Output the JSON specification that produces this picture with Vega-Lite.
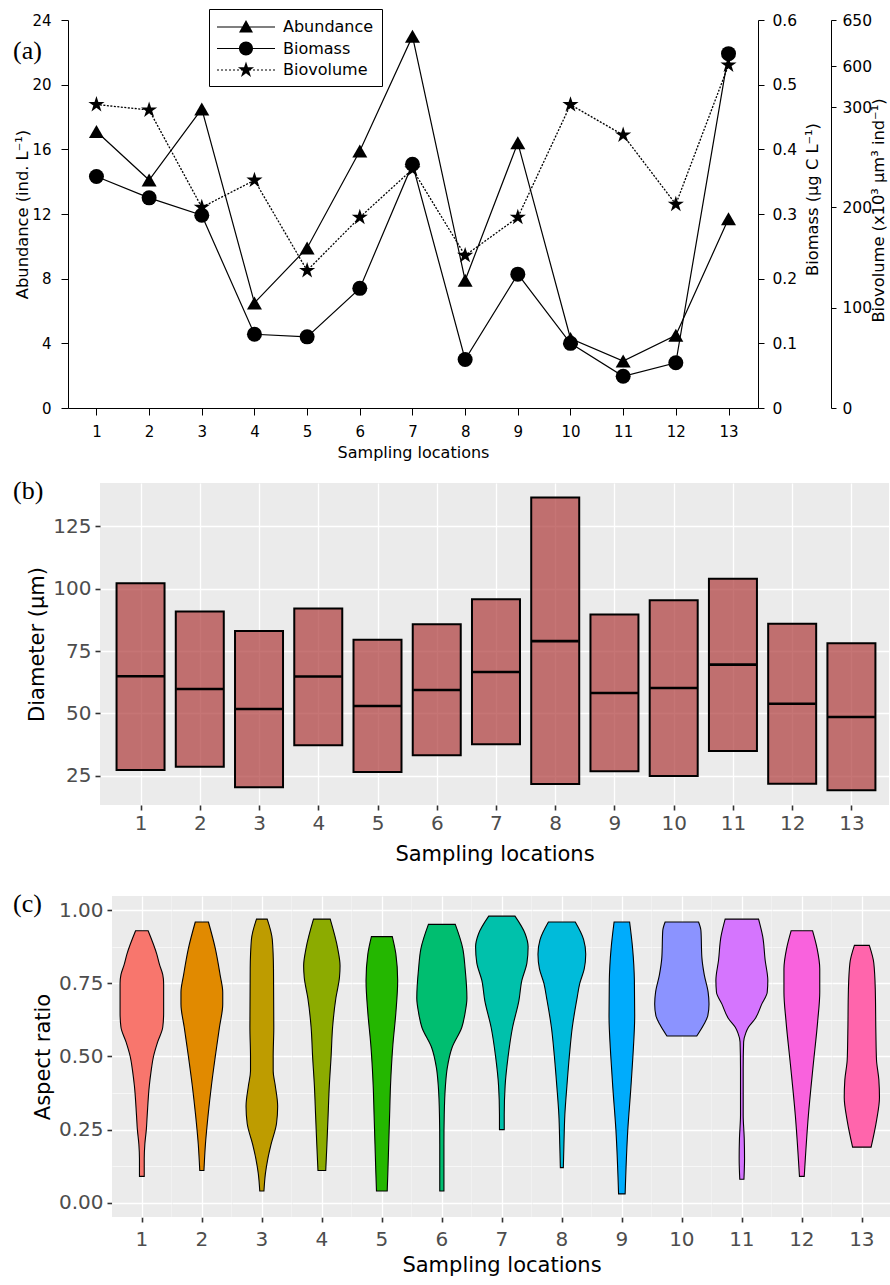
{
  "$schema": "https://vega.github.io/schema/vega-lite/v6.json",
  "background": "white",
  "padding": {"left": 12, "top": 8, "right": 0, "bottom": 0},
  "spacing": 18,
  "center": false,
  "config": {
    "font": "DejaVu Sans",
    "view": {"stroke": null},
    "axis": {"labelFont": "DejaVu Sans", "titleFont": "DejaVu Sans", "titleFontWeight": "normal", "labelOverlap": false, "labelFlush": false, "labelBound": false},
    "title": {"font": "Liberation Serif", "fontSize": 26, "fontWeight": "normal", "color": "black", "anchor": "start", "frame": "group"}
  },
  "datasets": {
    "panelA": [
      {"loc": 1, "abundance": 17.1, "biomass": 0.358, "biovolume": 318},
      {"loc": 2, "abundance": 14.1, "biomass": 0.325, "biovolume": 297},
      {"loc": 3, "abundance": 18.5, "biomass": 0.298, "biovolume": 200},
      {"loc": 4, "abundance": 6.5, "biomass": 0.114, "biovolume": 227},
      {"loc": 5, "abundance": 9.9, "biomass": 0.110, "biovolume": 137},
      {"loc": 6, "abundance": 15.9, "biomass": 0.185, "biovolume": 190},
      {"loc": 7, "abundance": 23.0, "biomass": 0.377, "biovolume": 238},
      {"loc": 8, "abundance": 7.9, "biomass": 0.075, "biovolume": 152},
      {"loc": 9, "abundance": 16.4, "biomass": 0.207, "biovolume": 190},
      {"loc": 10, "abundance": 4.3, "biomass": 0.100, "biovolume": 317},
      {"loc": 11, "abundance": 2.9, "biomass": 0.049, "biovolume": 272},
      {"loc": 12, "abundance": 4.5, "biomass": 0.070, "biovolume": 203},
      {"loc": 13, "abundance": 11.7, "biomass": 0.548, "biovolume": 601}
    ],
    "legendA": [
      {"series": "Abundance"},
      {"series": "Biomass"},
      {"series": "Biovolume"}
    ],
    "panelB": [
      {"loc": 1, "lower": 27.3, "median": 64.9, "upper": 102.2},
      {"loc": 2, "lower": 28.6, "median": 59.8, "upper": 90.9},
      {"loc": 3, "lower": 20.4, "median": 51.8, "upper": 83.1},
      {"loc": 4, "lower": 37.3, "median": 64.8, "upper": 92.1},
      {"loc": 5, "lower": 26.5, "median": 53.0, "upper": 79.6},
      {"loc": 6, "lower": 33.2, "median": 59.4, "upper": 85.8},
      {"loc": 7, "lower": 37.7, "median": 66.6, "upper": 95.8},
      {"loc": 8, "lower": 21.7, "median": 79.0, "upper": 136.6},
      {"loc": 9, "lower": 26.8, "median": 58.2, "upper": 89.7},
      {"loc": 10, "lower": 24.9, "median": 60.2, "upper": 95.4},
      {"loc": 11, "lower": 35.0, "median": 69.6, "upper": 104.0},
      {"loc": 12, "lower": 21.8, "median": 53.9, "upper": 86.0},
      {"loc": 13, "lower": 19.2, "median": 48.6, "upper": 78.2}
    ],
    "panelC": [
      {"loc": 1, "ar": 0.09, "w": 0.08}, {"loc": 1, "ar": 0.15, "w": 0.08}, {"loc": 1, "ar": 0.2, "w": 0.10}, {"loc": 1, "ar": 0.25, "w": 0.15}, {"loc": 1, "ar": 0.3, "w": 0.18}, {"loc": 1, "ar": 0.4, "w": 0.25}, {"loc": 1, "ar": 0.45, "w": 0.31}, {"loc": 1, "ar": 0.5, "w": 0.39}, {"loc": 1, "ar": 0.55, "w": 0.53}, {"loc": 1, "ar": 0.6, "w": 0.70}, {"loc": 1, "ar": 0.65, "w": 0.73}, {"loc": 1, "ar": 0.75, "w": 0.73}, {"loc": 1, "ar": 0.78, "w": 0.70}, {"loc": 1, "ar": 0.815, "w": 0.59}, {"loc": 1, "ar": 0.85, "w": 0.50}, {"loc": 1, "ar": 0.93, "w": 0.21},
      {"loc": 2, "ar": 0.11, "w": 0.07}, {"loc": 2, "ar": 0.2, "w": 0.12}, {"loc": 2, "ar": 0.3, "w": 0.21}, {"loc": 2, "ar": 0.4, "w": 0.32}, {"loc": 2, "ar": 0.5, "w": 0.45}, {"loc": 2, "ar": 0.6, "w": 0.59}, {"loc": 2, "ar": 0.68, "w": 0.70}, {"loc": 2, "ar": 0.72, "w": 0.70}, {"loc": 2, "ar": 0.78, "w": 0.61}, {"loc": 2, "ar": 0.87, "w": 0.45}, {"loc": 2, "ar": 0.96, "w": 0.22},
      {"loc": 3, "ar": 0.04, "w": 0.07}, {"loc": 3, "ar": 0.1, "w": 0.12}, {"loc": 3, "ar": 0.15, "w": 0.20}, {"loc": 3, "ar": 0.2, "w": 0.31}, {"loc": 3, "ar": 0.27, "w": 0.49}, {"loc": 3, "ar": 0.33, "w": 0.53}, {"loc": 3, "ar": 0.4, "w": 0.45}, {"loc": 3, "ar": 0.45, "w": 0.38}, {"loc": 3, "ar": 0.5, "w": 0.38}, {"loc": 3, "ar": 0.6, "w": 0.40}, {"loc": 3, "ar": 0.8, "w": 0.39}, {"loc": 3, "ar": 0.9, "w": 0.35}, {"loc": 3, "ar": 0.97, "w": 0.18},
      {"loc": 4, "ar": 0.11, "w": 0.13}, {"loc": 4, "ar": 0.2, "w": 0.17}, {"loc": 4, "ar": 0.3, "w": 0.21}, {"loc": 4, "ar": 0.4, "w": 0.25}, {"loc": 4, "ar": 0.5, "w": 0.31}, {"loc": 4, "ar": 0.6, "w": 0.36}, {"loc": 4, "ar": 0.7, "w": 0.47}, {"loc": 4, "ar": 0.77, "w": 0.59}, {"loc": 4, "ar": 0.81, "w": 0.61}, {"loc": 4, "ar": 0.87, "w": 0.53}, {"loc": 4, "ar": 0.97, "w": 0.28},
      {"loc": 5, "ar": 0.04, "w": 0.18}, {"loc": 5, "ar": 0.1, "w": 0.20}, {"loc": 5, "ar": 0.2, "w": 0.23}, {"loc": 5, "ar": 0.3, "w": 0.26}, {"loc": 5, "ar": 0.4, "w": 0.29}, {"loc": 5, "ar": 0.54, "w": 0.37}, {"loc": 5, "ar": 0.65, "w": 0.47}, {"loc": 5, "ar": 0.76, "w": 0.53}, {"loc": 5, "ar": 0.85, "w": 0.47}, {"loc": 5, "ar": 0.91, "w": 0.35},
      {"loc": 6, "ar": 0.04, "w": 0.07}, {"loc": 6, "ar": 0.2, "w": 0.07}, {"loc": 6, "ar": 0.3, "w": 0.08}, {"loc": 6, "ar": 0.4, "w": 0.12}, {"loc": 6, "ar": 0.46, "w": 0.18}, {"loc": 6, "ar": 0.53, "w": 0.34}, {"loc": 6, "ar": 0.6, "w": 0.67}, {"loc": 6, "ar": 0.65, "w": 0.78}, {"loc": 6, "ar": 0.7, "w": 0.84}, {"loc": 6, "ar": 0.8, "w": 0.78}, {"loc": 6, "ar": 0.87, "w": 0.70}, {"loc": 6, "ar": 0.952, "w": 0.45},
      {"loc": 7, "ar": 0.25, "w": 0.08}, {"loc": 7, "ar": 0.3, "w": 0.08}, {"loc": 7, "ar": 0.4, "w": 0.11}, {"loc": 7, "ar": 0.5, "w": 0.21}, {"loc": 7, "ar": 0.6, "w": 0.36}, {"loc": 7, "ar": 0.69, "w": 0.57}, {"loc": 7, "ar": 0.76, "w": 0.67}, {"loc": 7, "ar": 0.82, "w": 0.84}, {"loc": 7, "ar": 0.875, "w": 0.88}, {"loc": 7, "ar": 0.92, "w": 0.78}, {"loc": 7, "ar": 0.98, "w": 0.44},
      {"loc": 8, "ar": 0.12, "w": 0.05}, {"loc": 8, "ar": 0.2, "w": 0.07}, {"loc": 8, "ar": 0.3, "w": 0.10}, {"loc": 8, "ar": 0.4, "w": 0.17}, {"loc": 8, "ar": 0.5, "w": 0.25}, {"loc": 8, "ar": 0.6, "w": 0.35}, {"loc": 8, "ar": 0.7, "w": 0.51}, {"loc": 8, "ar": 0.75, "w": 0.60}, {"loc": 8, "ar": 0.8, "w": 0.75}, {"loc": 8, "ar": 0.85, "w": 0.80}, {"loc": 8, "ar": 0.9, "w": 0.73}, {"loc": 8, "ar": 0.96, "w": 0.45},
      {"loc": 9, "ar": 0.03, "w": 0.11}, {"loc": 9, "ar": 0.25, "w": 0.20}, {"loc": 9, "ar": 0.39, "w": 0.30}, {"loc": 9, "ar": 0.5, "w": 0.37}, {"loc": 9, "ar": 0.64, "w": 0.43}, {"loc": 9, "ar": 0.76, "w": 0.42}, {"loc": 9, "ar": 0.87, "w": 0.36}, {"loc": 9, "ar": 0.96, "w": 0.26},
      {"loc": 10, "ar": 0.57, "w": 0.50}, {"loc": 10, "ar": 0.61, "w": 0.74}, {"loc": 10, "ar": 0.64, "w": 0.87}, {"loc": 10, "ar": 0.68, "w": 0.91}, {"loc": 10, "ar": 0.72, "w": 0.88}, {"loc": 10, "ar": 0.78, "w": 0.75}, {"loc": 10, "ar": 0.84, "w": 0.67}, {"loc": 10, "ar": 0.93, "w": 0.64}, {"loc": 10, "ar": 0.96, "w": 0.56},
      {"loc": 11, "ar": 0.08, "w": 0.07}, {"loc": 11, "ar": 0.15, "w": 0.09}, {"loc": 11, "ar": 0.22, "w": 0.08}, {"loc": 11, "ar": 0.3, "w": 0.045}, {"loc": 11, "ar": 0.46, "w": 0.045}, {"loc": 11, "ar": 0.55, "w": 0.06}, {"loc": 11, "ar": 0.58, "w": 0.13}, {"loc": 11, "ar": 0.6, "w": 0.22}, {"loc": 11, "ar": 0.63, "w": 0.45}, {"loc": 11, "ar": 0.68, "w": 0.67}, {"loc": 11, "ar": 0.72, "w": 0.85}, {"loc": 11, "ar": 0.76, "w": 0.87}, {"loc": 11, "ar": 0.83, "w": 0.78}, {"loc": 11, "ar": 0.91, "w": 0.70}, {"loc": 11, "ar": 0.97, "w": 0.56},
      {"loc": 12, "ar": 0.09, "w": 0.08}, {"loc": 12, "ar": 0.3, "w": 0.22}, {"loc": 12, "ar": 0.47, "w": 0.38}, {"loc": 12, "ar": 0.62, "w": 0.53}, {"loc": 12, "ar": 0.72, "w": 0.60}, {"loc": 12, "ar": 0.8, "w": 0.60}, {"loc": 12, "ar": 0.87, "w": 0.51}, {"loc": 12, "ar": 0.93, "w": 0.36},
      {"loc": 13, "ar": 0.19, "w": 0.31}, {"loc": 13, "ar": 0.28, "w": 0.49}, {"loc": 13, "ar": 0.36, "w": 0.59}, {"loc": 13, "ar": 0.42, "w": 0.57}, {"loc": 13, "ar": 0.49, "w": 0.49}, {"loc": 13, "ar": 0.58, "w": 0.47}, {"loc": 13, "ar": 0.73, "w": 0.45}, {"loc": 13, "ar": 0.82, "w": 0.40}, {"loc": 13, "ar": 0.88, "w": 0.25}
    ]
  },
  "vconcat": [
    {
      "spacing": 0,
      "hconcat": [
        {"width": 1, "height": 1, "view": {"stroke": null, "fill": null}, "data": {"values": []}, "mark": "point"},
        {
          "width": 690,
          "height": 388,
          "title": {"text": "(a)", "dx": -55, "dy": 55},
          "view": {"stroke": null, "fill": null},
          "data": {"name": "panelA"},
          "layer": [
            {
              "layer": [
                {
                  "mark": {"type": "line", "color": "black", "strokeWidth": 1.2},
                  "encoding": {
                    "x": {
                      "field": "loc", "type": "quantitative",
                      "scale": {"domain": [0.46, 13.56], "nice": false, "zero": false},
                      "axis": {"values": [1, 2, 3, 4, 5, 6, 7, 8, 9, 10, 11, 12, 13], "format": "d", "title": "Sampling locations", "grid": false, "tickSize": 7, "tickColor": "black", "domainColor": "black", "labelColor": "black", "labelFontSize": 15, "labelPadding": 9, "titleFontSize": 16, "titlePadding": 5, "titleColor": "black"}
                    },
                    "y": {
                      "field": "abundance", "type": "quantitative",
                      "scale": {"domain": [0, 24], "nice": false, "zero": false},
                      "axis": {"orient": "left", "values": [0, 2, 4, 6, 8, 10, 12, 14, 16, 18, 20, 22, 24], "labelExpr": "datum.value % 4 === 0 ? datum.label : ''", "title": "Abundance (ind. L⁻¹)", "titleFontSize": 16.3, "titleColor": "black", "titlePadding": 1, "tickSize": 7, "tickColor": "black", "domainColor": "black", "labelColor": "black", "labelFontSize": 15, "labelPadding": 10, "grid": false}
                    }
                  }
                },
                {
                  "mark": {"type": "point", "shape": "triangle-up", "filled": true, "color": "black", "opacity": 1, "size": 225},
                  "encoding": {"x": {"field": "loc", "type": "quantitative"}, "y": {"field": "abundance", "type": "quantitative"}}
                },
                {
                  "data": {"name": "legendA"},
                  "mark": {"type": "point", "filled": true, "color": "black", "opacity": 0, "size": 400},
                  "encoding": {
                    "shape": {
                      "field": "series", "type": "nominal",
                      "scale": {
                        "domain": ["Abundance", "Biomass", "Biovolume"],
                        "range": [
                          "M-1,-0.06H4.8V0.06H-1ZM1.9,-0.7L2.6,0.55L1.2,0.55Z",
                          "M-1,-0.06H4.8V0.06H-1ZM1.2,0A0.7,0.7,0,1,1,2.6,0A0.7,0.7,0,1,1,1.2,0Z",
                          "M-1,-0.06H-0.8V0.06H-1ZM-0.6,-0.06H-0.4V0.06H-0.6ZM-0.2,-0.06H0V0.06H-0.2ZM0.2,-0.06H0.4V0.06H0.2ZM0.6,-0.06H0.8V0.06H0.6ZM1,-0.06H1.2V0.06H1ZM1.4,-0.06H1.6V0.06H1.4ZM1.8,-0.06H2V0.06H1.8ZM2.2,-0.06H2.4V0.06H2.2ZM2.6,-0.06H2.8V0.06H2.6ZM3,-0.06H3.2V0.06H3ZM3.4,-0.06H3.6V0.06H3.4ZM3.8,-0.06H4V0.06H3.8ZM4.2,-0.06H4.4V0.06H4.2ZM4.6,-0.06H4.8V0.06H4.6ZM1.9,-0.85L2.091,-0.263L2.708,-0.263L2.209,0.1L2.4,0.688L1.9,0.325L1.4,0.688L1.591,0.1L1.092,-0.263L1.709,-0.263Z"
                        ]
                      },
                      "legend": {"orient": "none", "legendX": 197, "legendY": -11, "title": null, "direction": "vertical", "strokeColor": "black", "fillColor": "white", "padding": 8, "symbolSize": 400, "symbolStrokeWidth": 0, "symbolOpacity": 1, "symbolFillColor": "black", "labelFontSize": 16, "labelColor": "black", "labelFont": "DejaVu Sans", "labelOffset": 46, "rowPadding": 3.5, "symbolOffset": 0}
                    }
                  }
                }
              ]
            },
            {
              "layer": [
                {
                  "mark": {"type": "line", "color": "black", "strokeWidth": 1.2},
                  "encoding": {
                    "x": {"field": "loc", "type": "quantitative"},
                    "y": {
                      "field": "biomass", "type": "quantitative",
                      "scale": {"domain": [0, 0.6], "nice": false, "zero": false},
                      "axis": {"orient": "right", "values": [0, 0.05, 0.1, 0.15, 0.2, 0.25, 0.3, 0.35, 0.4, 0.45, 0.5, 0.55, 0.6], "labelExpr": "round(datum.value * 100) % 10 === 0 ? format(datum.value, '.1~f') : ''", "title": "Biomass (µg C L⁻¹)", "titleFontSize": 16.3, "titleColor": "black", "titleAngle": 270, "titleX": 54, "titleY": 179, "titleAlign": "center", "titleBaseline": "middle", "tickSize": 6, "tickColor": "black", "domainColor": "black", "labelColor": "black", "labelFontSize": 15.5, "labelPadding": 8, "grid": false}
                    }
                  }
                },
                {
                  "mark": {"type": "point", "shape": "circle", "filled": true, "color": "black", "opacity": 1, "size": 225},
                  "encoding": {"x": {"field": "loc", "type": "quantitative"}, "y": {"field": "biomass", "type": "quantitative"}}
                }
              ]
            },
            {
              "layer": [
                {
                  "mark": {"type": "line", "color": "black", "strokeWidth": 1.3, "strokeDash": [2, 1.5]},
                  "encoding": {
                    "x": {"field": "loc", "type": "quantitative"},
                    "y": {
                      "field": "biovolume", "type": "quantitative",
                      "scale": {"domain": [0, 300, 600, 650], "range": [388, 87, 46, 0], "nice": false, "zero": false},
                      "axis": {"orient": "right", "offset": 73, "values": [0, 50, 100, 150, 200, 250, 300, 475, 600, 625, 650], "labelExpr": "indexof([0, 100, 200, 300, 600, 650], datum.value) >= 0 ? datum.label : (datum.value === 475 ? '//' : '')", "labelAlign": {"condition": {"test": "datum.value === 475", "value": "right"}, "value": "left"}, "labelFontWeight": {"condition": {"test": "datum.value === 475", "value": "bold"}, "value": "normal"}, "labelPadding": 6, "tickOpacity": {"condition": {"test": "datum.value === 475", "value": 0}, "value": 1}, "title": "Biovolume (x10³ µm³ ind⁻¹)", "titleFontSize": 16.3, "titleColor": "black", "titleAngle": 270, "titleX": 47, "titleY": 190, "titleAlign": "center", "titleBaseline": "middle", "tickSize": 5, "tickColor": "black", "domainColor": "black", "labelColor": "black", "labelFontSize": 15.5, "grid": false}
                    }
                  }
                },
                {
                  "mark": {"type": "point", "shape": "M0,-1L0.2245,-0.309L0.951,-0.309L0.363,0.118L0.588,0.809L0,0.382L-0.588,0.809L-0.363,0.118L-0.951,-0.309L-0.2245,-0.309Z", "filled": true, "color": "black", "opacity": 1, "size": 289},
                  "encoding": {"x": {"field": "loc", "type": "quantitative"}, "y": {"field": "biovolume", "type": "quantitative"}}
                }
              ]
            }
          ],
          "resolve": {"scale": {"y": "independent"}, "axis": {"y": "independent"}}
        }
      ]
    },
    {
      "spacing": 27,
      "vconcat": [
        {
          "spacing": 0,
          "hconcat": [
            {"width": 1, "height": 1, "view": {"stroke": null, "fill": null}, "data": {"values": []}, "mark": "point"},
            {
              "width": 789,
              "height": 322,
              "title": {"text": "(b)", "dx": -87, "dy": 25},
              "view": {"fill": "#EBEBEB", "stroke": null},
              "data": {"name": "panelB"},
              "layer": [
                {
                  "mark": {"type": "bar", "width": 48, "fill": "#AE3B3B", "fillOpacity": 0.7, "stroke": "black", "strokeWidth": 2},
                  "encoding": {
                    "x": {
                      "field": "loc", "type": "quantitative",
                      "scale": {"domain": [0.4, 13.55], "nice": false, "zero": false},
                      "axis": {"values": [1, 2, 3, 4, 5, 6, 7, 8, 9, 10, 11, 12, 13], "format": "d", "title": "Sampling locations", "grid": true, "gridColor": "white", "gridWidth": 1.3, "domain": false, "tickSize": 5, "tickWidth": 1.6, "tickColor": "#333333", "labelColor": "#4D4D4D", "labelFontSize": 20, "labelPadding": 3, "titleFontSize": 21, "titleColor": "black", "titlePadding": 10}
                    },
                    "y": {
                      "field": "lower", "type": "quantitative",
                      "scale": {"domain": [13.3, 142.4], "nice": false, "zero": false},
                      "axis": {"values": [25, 37.5, 50, 62.5, 75, 87.5, 100, 112.5, 125, 137.5], "labelExpr": "datum.value % 25 === 0 ? datum.label : ''", "tickOpacity": {"condition": {"test": "datum.value % 25 !== 0", "value": 0}, "value": 1}, "gridWidth": {"condition": {"test": "datum.value % 25 !== 0", "value": 0.6}, "value": 1.3}, "grid": true, "gridColor": "white", "domain": false, "tickSize": 5, "tickWidth": 1.6, "tickColor": "#333333", "labelColor": "#4D4D4D", "labelFontSize": 20, "labelPadding": 4, "title": "Diameter (µm)", "titleFontSize": 21, "titleColor": "black", "titlePadding": 5}
                    },
                    "y2": {"field": "upper"}
                  }
                },
                {
                  "mark": {"type": "tick", "orient": "horizontal", "size": 47, "thickness": 2.6, "color": "black", "opacity": 1},
                  "encoding": {"x": {"field": "loc", "type": "quantitative"}, "y": {"field": "median", "type": "quantitative"}}
                }
              ]
            }
          ]
        },
        {
          "spacing": 0,
          "hconcat": [
            {"width": 1, "height": 1, "view": {"stroke": null, "fill": null}, "data": {"values": []}, "mark": "point"},
            {
              "data": {"name": "panelC"},
              "title": {"text": "(c)", "dx": -99, "dy": 25},
              "spacing": 0,
              "facet": {
                "column": {
                  "field": "loc", "type": "ordinal", "sort": "ascending", "title": "Sampling locations",
                  "header": {"labelOrient": "bottom", "titleOrient": "bottom", "labelFontSize": 20, "labelColor": "#4D4D4D", "labelFont": "DejaVu Sans", "labelPadding": 7, "titleFontSize": 21, "titleFont": "DejaVu Sans", "titleColor": "black", "titleFontWeight": "normal", "titlePadding": -5}
                }
              },
              "spec": {
                "width": 59.7,
                "height": 321,
                "view": {"fill": "#EBEBEB", "stroke": null},
                "mark": {"type": "area", "orient": "horizontal", "interpolate": "monotone", "stroke": "black", "strokeWidth": 1.1, "opacity": 1},
                "encoding": {
                  "y": {
                    "field": "ar", "type": "quantitative",
                    "scale": {"domain": [-0.049, 1.049], "nice": false, "zero": false},
                    "axis": {"values": [0, 0.125, 0.25, 0.375, 0.5, 0.625, 0.75, 0.875, 1], "labelExpr": "datum.value % 0.25 === 0 ? format(datum.value, '.2f') : ''", "tickOpacity": {"condition": {"test": "datum.value % 0.25 !== 0", "value": 0}, "value": 1}, "gridWidth": {"condition": {"test": "datum.value % 0.25 !== 0", "value": 0.6}, "value": 1.3}, "grid": true, "gridColor": "white", "domain": false, "tickSize": 5, "tickWidth": 1.6, "tickColor": "#333333", "labelColor": "#4D4D4D", "labelFontSize": 20, "labelPadding": 4, "title": "Aspect ratio", "titleFontSize": 21, "titleColor": "black", "titlePadding": 5}
                  },
                  "x": {
                    "field": "w", "type": "quantitative", "stack": "center", "impute": null,
                    "scale": {"domain": [-0.045, 0.955], "nice": false, "zero": false},
                    "axis": {"values": [0.455], "labels": false, "title": null, "domain": false, "grid": true, "gridColor": "white", "gridWidth": 1.3, "tickSize": 5, "tickWidth": 1.6, "tickColor": "#333333"}
                  },
                  "color": {
                    "field": "loc", "type": "nominal",
                    "scale": {"domain": [1, 2, 3, 4, 5, 6, 7, 8, 9, 10, 11, 12, 13], "range": ["#F8766D", "#E18A00", "#BE9C00", "#8CAB00", "#24B700", "#00BE70", "#00C1AB", "#00BBDA", "#00ACFC", "#8B93FF", "#D575FE", "#F962DD", "#FF65AC"]},
                    "legend": null
                  }
                }
              }
            }
          ]
        }
      ]
    }
  ]
}
